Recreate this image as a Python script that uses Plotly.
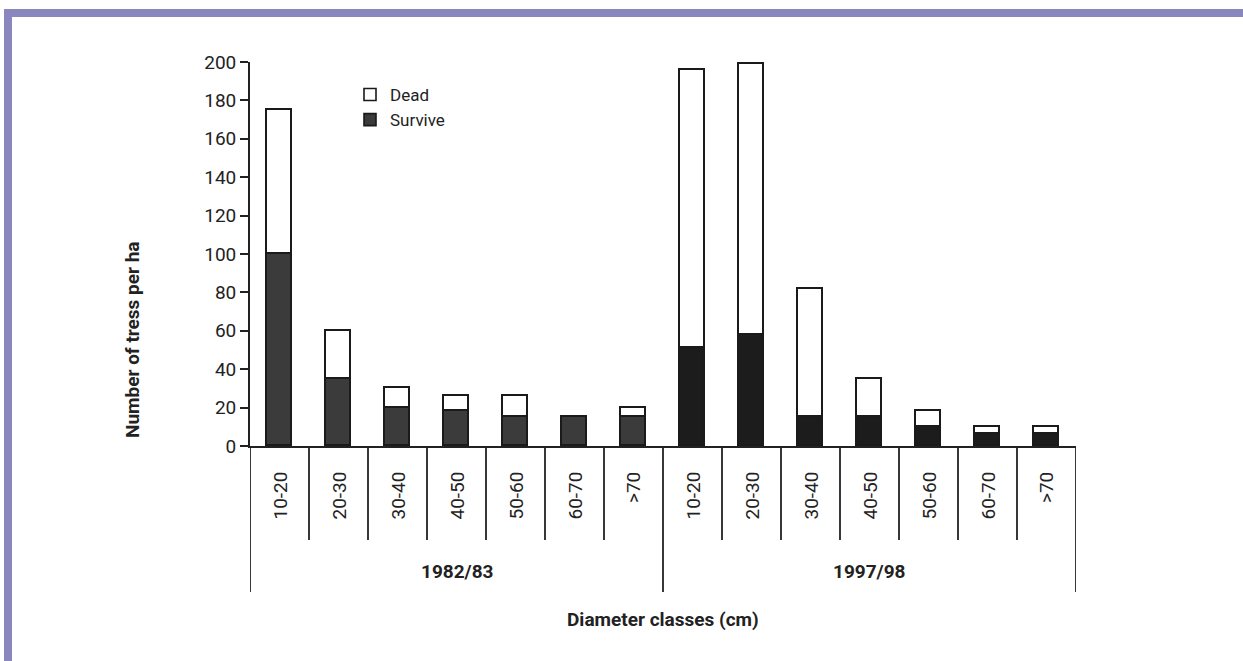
import plotly.graph_objects as go

# ---- data ----
classes = ["10-20", "20-30", "30-40", "40-50", "50-60", "60-70", ">70"]
periods = ["1982/83", "1997/98"]
survive_8283 = [100, 35, 20, 18, 15, 15, 15]
dead_8283 = [75, 25, 10, 8, 11, 0, 5]
survive_9798 = [51, 58, 15, 15, 10, 6, 6]
dead_9798 = [145, 141, 67, 20, 8, 4, 4]
y_ticks = [0, 20, 40, 60, 80, 100, 120, 140, 160, 180, 200]

labels = classes + classes
xpos = list(range(len(labels)))
survive = survive_8283 + survive_9798
dead = dead_8283 + dead_9798
surv_colors = ["#3b3b3b"] * len(classes) + ["#1c1c1c"] * len(classes)

FONT = "Liberation Sans Narrow, Arial Narrow, Roboto, sans-serif"
FS = 19

fig = go.Figure()
fig.add_trace(go.Bar(x=xpos, y=survive, name="Survive", width=0.41,
                     marker=dict(color=surv_colors, line=dict(color="#1a1a1a", width=1.6))))
fig.add_trace(go.Bar(x=xpos, y=dead, name="Dead", width=0.41,
                     marker=dict(color="white", line=dict(color="#1a1a1a", width=1.6))))

# plot-area geometry in pixels (for decorations only)
L, R, T, B = 250, 1076, 62, 446
W, H = R - L, B - T
def px(xp):
    return (xp - L) / W
def py(yp):
    return (B - yp) / H

shapes = []
frame = "#8987bd"
shapes.append(dict(type="rect", xref="paper", yref="paper", x0=px(4), x1=px(1243), y0=py(17), y1=py(9),
                   fillcolor=frame, line=dict(width=0), layer="below"))
shapes.append(dict(type="rect", xref="paper", yref="paper", x0=px(4), x1=px(12), y0=py(661), y1=py(9),
                   fillcolor=frame, line=dict(width=0), layer="below"))
n = len(labels)
for b in range(n + 1):
    long = b in (0, len(classes), n)
    shapes.append(dict(type="line", xref="x", yref="paper", x0=b - 0.5, x1=b - 0.5,
                       y0=0, y1=py(592 if long else 540),
                       line=dict(color="#222222", width=1.8)))

annotations = []
for i, lab in enumerate(labels):
    annotations.append(dict(x=i, y=py(470), xref="x", yref="paper", text=lab, showarrow=False,
                            textangle=-90, xanchor="center", yanchor="top",
                            font=dict(family=FONT, size=FS, color="#222222")))
for k, p in enumerate(periods):
    annotations.append(dict(x=k * len(classes) + (len(classes) - 1) / 2, y=py(571), xref="x", yref="paper",
                            text="<b>" + p + "</b>", showarrow=False, xanchor="center", yanchor="middle",
                            font=dict(family=FONT, size=FS, color="#222222")))
annotations.append(dict(x=0.5, y=py(619), xref="paper", yref="paper", text="<b>Diameter classes (cm)</b>",
                        showarrow=False, xanchor="center", yanchor="middle",
                        font=dict(family=FONT, size=FS, color="#222222")))
annotations.append(dict(x=px(132), y=py(340), xref="paper", yref="paper", text="<b>Number of tress per ha</b>",
                        showarrow=False, textangle=-90, xanchor="center", yanchor="middle",
                        font=dict(family=FONT, size=FS, color="#222222")))

fig.update_layout(
    width=1243, height=661, autosize=False,
    margin=dict(l=L, r=1243 - R, t=T, b=661 - B),
    paper_bgcolor="white", plot_bgcolor="white",
    barmode="stack", bargap=0,
    showlegend=True,
    legend=dict(x=px(350), y=py(77), xanchor="left", yanchor="top", traceorder="reversed",
                bgcolor="rgba(0,0,0,0)", borderwidth=0,
                font=dict(family=FONT, size=17, color="#222222"), itemwidth=30),
    shapes=shapes, annotations=annotations,
    font=dict(family=FONT, size=FS, color="#222222"),
)
fig.update_xaxes(range=[-0.5, n - 0.5], showline=True, linecolor="#222222", linewidth=1.8,
                 showticklabels=False, ticks="", showgrid=False, zeroline=False, fixedrange=True)
fig.update_yaxes(range=[0, 200], tickvals=y_ticks, ticks="outside", ticklen=8, tickwidth=1.8,
                 tickcolor="#222222", showline=True, linecolor="#222222", linewidth=1.8,
                 showgrid=False, zeroline=False, tickfont=dict(family=FONT, size=FS, color="#222222"),
                 fixedrange=True)

fig.write_html("out.html", config={"displayModeBar": False},
               post_script="document.body.style.margin='0';document.body.style.overflow='hidden';")
